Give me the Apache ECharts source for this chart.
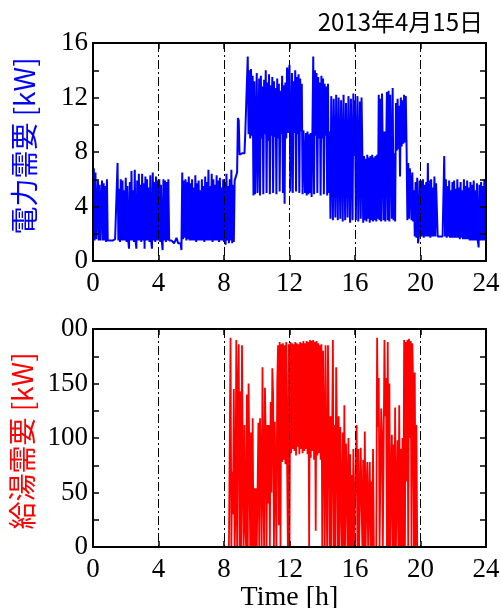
<!DOCTYPE html>
<html>
<head>
<meta charset="utf-8">
<script src="https://cdn.jsdelivr.net/npm/echarts@6/dist/echarts.min.js"></script>
<style>
html,body{margin:0;padding:0;background:#fff;}
#chart{width:501px;height:608px;}
</style>
</head>
<body>
<div id="chart"></div>
<script>
// ---- data ----
const dateLabel = '2013年4月15日';
const xTitle = 'Time [h]';
const elecTitle = '電力需要 [kW]';
const hotTitle = '給湯需要 [kW]';
const hourTicks = [0, 4, 8, 12, 16, 20, 24];
const elecTicks = [0, 4, 8, 12, 16];
const hotTicks = [0, 50, 100, 150, 200];

// electric demand [kW], one sample every 0.05 h from 0:00 to 24:00
const elecStepH = 0.05;
const elecKW = [
  1.5,6.8,1.5,6.5,1.6,1.5,5.9,1.5,5.6,1.5,1.4,5.9,1.5,5.7,1.5,5.5,1.4,6.0,1.5,1.5,
  1.5,1.5,1.5,1.5,1.5,1.5,1.5,1.6,1.5,1.7,7.2,1.5,5.3,1.4,6.0,1.5,5.9,1.5,5.2,1.5,
  6.1,1.4,5.5,1.5,0.9,5.8,1.5,6.6,1.5,5.2,1.4,6.7,1.5,0.9,5.9,1.5,6.4,1.5,5.6,1.4,
  6.4,1.5,5.7,0.9,6.2,1.5,6.0,1.5,5.4,1.4,6.3,1.5,0.9,6.5,1.5,5.8,1.4,6.2,1.5,5.9,
  1.5,6.0,1.4,5.6,1.5,0.8,6.0,1.5,5.9,1.4,5.8,1.5,6.0,1.5,1.5,1.6,1.5,1.5,1.4,1.3,
  1.3,1.3,1.7,1.6,1.3,1.3,1.3,1.3,0.8,6.5,1.6,5.9,1.7,6.0,1.5,5.8,1.6,6.2,1.5,5.7,
  1.5,6.0,1.5,5.4,1.5,6.3,1.4,5.7,1.5,5.9,1.5,5.2,1.5,6.0,1.5,5.5,1.4,6.2,1.5,5.8,
  1.5,6.7,1.5,5.5,1.5,6.4,1.4,6.0,1.5,5.6,1.5,6.3,1.5,5.9,1.4,6.1,1.5,5.4,1.5,6.0,
  1.4,5.8,1.2,6.4,1.5,5.5,1.3,6.0,1.5,6.7,1.3,5.6,1.4,5.9,6.1,6.3,6.5,10.5,10.3,7.8,
  7.8,7.9,7.9,8.0,7.9,7.9,9.4,9.5,9.4,15.0,9.3,14.0,9.0,14.1,9.2,13.6,4.8,13.2,4.9,9.3,
  13.8,5.0,9.2,13.4,4.8,13.6,9.0,12.8,4.9,13.3,9.3,14.0,5.0,13.1,8.8,13.7,4.9,12.9,9.2,13.5,
  5.0,13.2,9.1,12.7,4.9,13.4,9.0,13.0,5.1,12.5,9.3,13.6,5.0,12.9,4.2,13.1,9.0,14.2,9.4,13.6,
  14.4,5.1,9.5,13.8,5.0,13.2,9.4,14.0,5.1,13.5,9.3,13.7,5.0,13.4,9.5,13.0,4.9,9.6,9.5,5.0,
  9.4,4.8,9.5,4.9,9.3,5.0,9.4,4.7,9.5,15.0,4.9,14.0,9.2,13.8,5.0,13.5,9.0,13.1,4.8,13.6,
  9.0,13.4,4.9,13.0,9.2,12.8,4.8,13.0,5.0,9.5,3.1,12.1,7.8,3.0,11.9,7.7,3.2,12.2,7.8,3.0,
  12.0,7.7,3.1,11.8,7.9,2.9,12.2,7.6,3.0,11.6,7.8,3.2,12.1,7.7,2.8,11.9,7.8,3.0,12.3,7.7,
  11.8,3.0,7.8,12.1,2.9,7.6,11.7,3.1,12.0,7.8,2.8,7.7,3.0,7.5,2.9,7.8,3.1,7.6,2.8,7.7,
  3.0,7.8,2.9,7.6,3.0,7.7,2.9,7.8,3.1,12.2,3.0,11.9,2.9,12.3,7.7,3.0,9.5,2.9,7.8,12.4,
  3.0,12.5,2.9,12.2,7.8,3.1,12.7,3.0,7.9,2.9,11.6,8.1,11.9,8.2,11.4,6.2,12.0,8.4,11.8,8.6,
  12.2,8.7,12.1,8.3,3.0,7.2,3.1,6.8,5.5,3.0,6.5,2.9,5.2,1.8,5.8,1.7,6.1,1.3,1.8,5.9,
  1.8,5.9,1.8,6.0,1.7,5.6,1.8,5.8,1.8,7.2,1.8,5.9,1.7,6.0,1.8,5.4,1.8,6.2,1.8,5.7,
  5.6,1.8,1.8,1.8,1.8,1.8,1.8,1.8,1.8,7.7,1.8,6.0,1.7,5.5,1.8,5.9,1.7,5.2,1.7,5.8,
  1.7,5.9,1.7,5.3,1.7,6.0,1.7,5.4,1.6,5.8,1.7,5.2,1.6,6.0,1.6,5.5,1.6,5.9,1.6,5.4,
  1.5,5.8,1.5,5.6,1.5,5.9,1.5,5.2,1.5,5.7,1.5,1.0,5.6,1.5,5.8,1.5,5.5,1.5,6.0,1.5,
  6.3
];

// hot-water demand [kW], one sample every 0.05 h from 8:00 to 19:55
const hotStartH = 8;
const hotStepH = 0.05;
const hotKW = [
  0,0,0,0,0,0,0,0,192,0,69,30,145,0,30,190,0,144,186,0,
  143,0,185,60,0,112,20,0,140,0,150,80,0,105,0,118,0,54,0,54,
  0,52,114,0,118,80,0,165,60,0,146,100,0,112,40,112,0,133,50,164,
  140,0,115,60,0,150,185,20,188,0,186,78,187,80,185,76,188,82,0,186,
  0,188,86,187,90,186,88,188,84,187,92,186,85,188,90,187,86,189,88,187,
  90,189,85,188,0,190,82,189,88,190,80,188,15,189,84,187,86,185,80,186,
  0,180,110,0,185,60,0,185,112,0,120,0,100,190,0,112,0,165,105,0,
  120,0,110,40,0,105,0,130,0,95,60,0,100,0,85,0,66,0,90,0,
  0,0,112,0,90,0,0,91,40,0,80,0,106,0,50,78,0,0,78,0,
  60,0,90,0,0,0,0,192,110,155,0,0,127,103,0,0,190,120,155,0,
  188,0,150,0,0,103,0,94,0,128,0,0,98,0,130,0,90,0,100,0,
  190,0,188,60,190,0,191,100,189,0,187,150,0,160,0,112,0,0,0,0
];

// ---- chart ----
const elecData = elecKW.map((v, i) => [+(i * elecStepH).toFixed(2), v]);
const hotData = hotKW.map((v, i) => [+(hotStartH + i * hotStepH).toFixed(2), v]);

const serif = 'Liberation Serif';
const cjk = 'Noto Sans CJK JP';
const axisLine = { show: true, onZero: false, lineStyle: { color: '#000', width: 2 } };
const tick = { show: true, inside: true, length: 6, lineStyle: { color: '#000', width: 1.5 } };
const dashDot = { show: true, lineStyle: { color: '#000', width: 1, type: [9, 3, 2, 3] } };

function xAxes(gridIndex) {
  return [
    {
      type: 'value', gridIndex, position: 'bottom', z: 10,
      min: hourTicks[0], max: hourTicks[hourTicks.length - 1], interval: 4,
      axisLine, axisTick: tick,
      axisLabel: { fontFamily: serif, fontSize: 27, color: '#000', margin: 9 },
      splitLine: dashDot,
      name: gridIndex === 1 ? xTitle : '',
      nameLocation: 'middle', nameGap: 34,
      nameTextStyle: { fontFamily: serif, fontSize: 28, color: '#000' }
    },
    {
      type: 'value', gridIndex, position: 'top', z: 10,
      min: hourTicks[0], max: hourTicks[hourTicks.length - 1], interval: 4,
      axisLine, axisTick: tick, axisLabel: { show: false }, splitLine: { show: false }
    }
  ];
}

function yAxes(gridIndex, ticks, title, color, labelFmt, pad) {
  const base = {
    type: 'value', gridIndex, z: 10,
    min: ticks[0], max: ticks[ticks.length - 1], interval: ticks[1] - ticks[0],
    axisLine, axisTick: tick,
    minorTick: { show: true, splitNumber: 2, length: 6, lineStyle: { color: '#000', width: 1.5 } },
    splitLine: { show: false }
  };
  return [
    Object.assign({}, base, {
      position: 'left',
      axisLabel: { fontFamily: serif, fontSize: 27, color: '#000', margin: 5, formatter: labelFmt },
      name: title, nameLocation: 'middle', nameGap: 55, nameRotate: 90,
      nameTextStyle: { fontFamily: cjk, fontSize: 28, color, padding: pad }
    }),
    Object.assign({}, base, { position: 'right', axisLabel: { show: false } })
  ];
}

const chart = echarts.init(document.getElementById('chart'), null, { renderer: 'canvas' });
chart.setOption({
  animation: false,
  backgroundColor: '#fff',
  grid: [
    { left: 93, top: 43, width: 393, height: 218, containLabel: false, outerBoundsMode: 'none' },
    { left: 93, top: 329, width: 393, height: 218, containLabel: false, outerBoundsMode: 'none' }
  ],
  xAxis: xAxes(0).concat(xAxes(1)),
  yAxis: yAxes(0, elecTicks, elecTitle, '#0000ff', v => String(v), [0, 0, 0, 12])
    .concat(yAxes(1, hotTicks, hotTitle, '#ff0000', v => (v === 200 ? '00' : String(v)), [0, 6, 0, 0])),
  graphic: [{
    type: 'text', right: 18, top: 10,
    style: { text: dateLabel, font: '24px "Noto Sans CJK JP"', fill: '#000' }
  }],
  series: [
    {
      type: 'line', xAxisIndex: 0, yAxisIndex: 0, data: elecData,
      showSymbol: false, symbol: 'none', z: 2,
      lineStyle: { color: '#0000ff', width: 2 }
    },
    {
      type: 'line', xAxisIndex: 2, yAxisIndex: 2, data: hotData,
      showSymbol: false, symbol: 'none', z: 2,
      lineStyle: { color: '#ff0000', width: 1.8 }
    }
  ]
});
</script>
</body>
</html>
